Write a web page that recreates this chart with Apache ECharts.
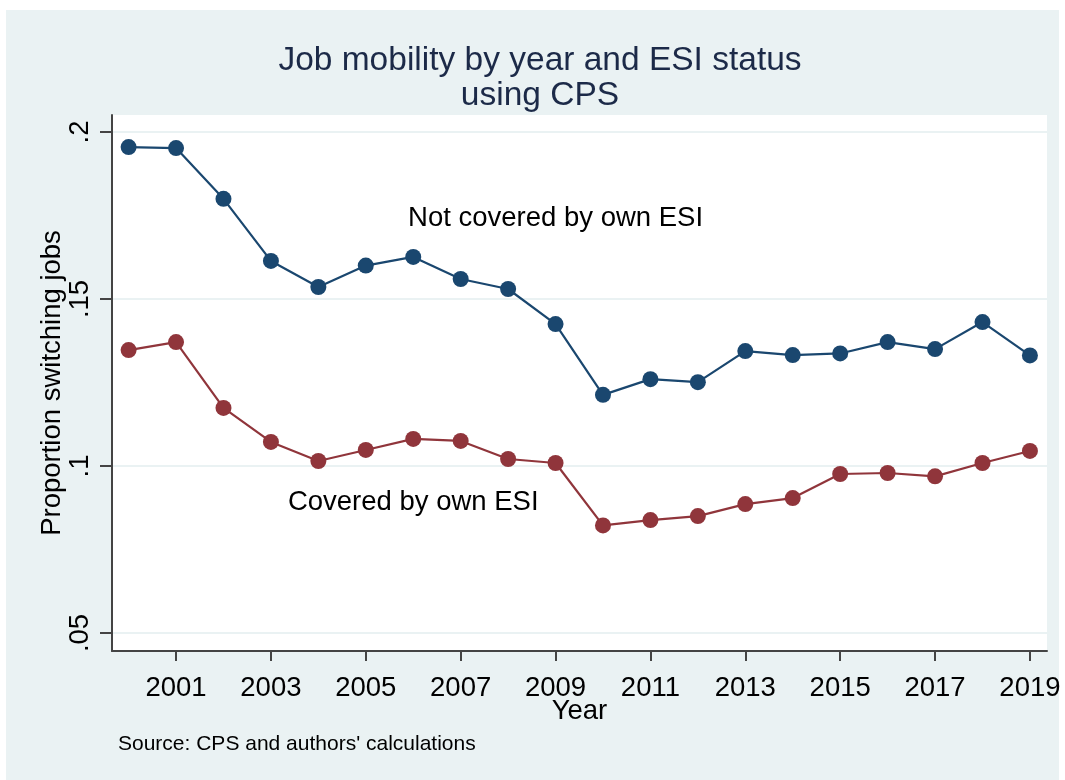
<!DOCTYPE html>
<html>
<head>
<meta charset="utf-8">
<script src="https://cdn.jsdelivr.net/npm/echarts@6/dist/echarts.min.js"></script>
<style>
  html, body { margin: 0; padding: 0; background: #fff; }
  #main { width: 1065px; height: 780px; }
</style>
</head>
<body>
<div id="main"></div>
<script>
// years and the two proportions
var years = [2000, 2001, 2002, 2003, 2004, 2005, 2006, 2007, 2008, 2009,
  2010, 2011, 2012, 2013, 2014, 2015, 2016, 2017, 2018, 2019]
var notCovered = [0.1955, 0.1952, 0.1800, 0.1614, 0.1536, 0.1600, 0.1626, 0.1560, 0.1530, 0.1425,
  0.1213, 0.1260, 0.1251, 0.1344, 0.1332, 0.1337, 0.1371, 0.1350, 0.1431, 0.1331]
var covered = [0.1347, 0.1371, 0.1174, 0.1072, 0.1015, 0.1048, 0.1081, 0.1075, 0.1021, 0.1009,
  0.0822, 0.0838, 0.0850, 0.0886, 0.0904, 0.0976, 0.0979, 0.0969, 0.1009, 0.1045]
var xTicks = [2001, 2003, 2005, 2007, 2009, 2011, 2013, 2015, 2017, 2019]
var yTicks = [0.05, 0.1, 0.15, 0.2]
var yTickLabels = ['.05', '.1', '.15', '.2']

var font = 'Liberation Sans, Arial, sans-serif'
var blue = '#1a476f'
var red = '#90353b'

function pairs (ys) {
  var out = []
  for (var i = 0; i < years.length; i++) {
    out.push([years[i], ys[i]])
  }
  return out
}

function textPoint (x, y, txt) {
  return {
    symbol: 'circle',
    symbolSize: 0,
    silent: true,
    data: [{
      coord: [x, y],
      label: {
        show: true,
        position: 'inside',
        formatter: txt,
        fontFamily: font,
        fontSize: 27.5,
        color: '#000'
      }
    }]
  }
}

var myChart = echarts.init(document.getElementById('main'))
var option = {
  backgroundColor: '#fff',
  animation: false,
  graphic: [
    {
      type: 'rect',
      z: -10,
      shape: { x: 6, y: 10, width: 1053, height: 770 },
      style: { fill: '#eaf2f3' }
    },
    {
      type: 'text',
      left: 118,
      top: 734,
      style: {
        text: "Source: CPS and authors' calculations",
        font: '21px ' + font,
        fill: '#000'
      }
    }
  ],
  title: {
    text: 'Job mobility by year and ESI status\nusing CPS',
    left: 535,
    top: 38,
    textAlign: 'center',
    textStyle: {
      fontFamily: font,
      fontSize: 33.5,
      fontWeight: 'normal',
      color: '#1c2a48',
      lineHeight: 35
    }
  },
  grid: {
    left: 112,
    top: 115,
    width: 935,
    height: 536,
    show: true,
    backgroundColor: '#fff',
    borderWidth: 0
  },
  xAxis: {
    type: 'value',
    min: 1999.65,
    max: 2019.36,
    name: 'Year',
    nameLocation: 'middle',
    nameGap: 46,
    nameMoveOverlap: false,
    nameTextStyle: { fontFamily: font, fontSize: 27.5, color: '#000' },
    axisLine: { lineStyle: { color: '#444', width: 2 } },
    axisTick: {
      customValues: xTicks,
      length: 10,
      lineStyle: { color: '#444', width: 2 }
    },
    axisLabel: {
      customValues: xTicks,
      margin: 23,
      fontFamily: font,
      fontSize: 27.5,
      color: '#000',
      formatter: function (v) { return String(v) }
    },
    splitLine: { show: false }
  },
  yAxis: {
    type: 'value',
    min: 0.0446,
    max: 0.2051,
    name: 'Proportion switching jobs',
    nameLocation: 'middle',
    nameGap: 46,
    nameMoveOverlap: false,
    nameTextStyle: { fontFamily: font, fontSize: 27.5, color: '#000' },
    axisLine: { show: true, lineStyle: { color: '#444', width: 2 } },
    axisTick: {
      show: true,
      customValues: yTicks,
      length: 12,
      lineStyle: { color: '#444', width: 2 }
    },
    axisLabel: {
      customValues: yTicks,
      rotate: 90,
      margin: 18,
      fontFamily: font,
      fontSize: 27.5,
      color: '#000',
      formatter: function (v) {
        for (var i = 0; i < yTicks.length; i++) {
          if (Math.abs(v - yTicks[i]) < 1e-6) return yTickLabels[i]
        }
        return ''
      }
    },
    splitLine: { show: true, lineStyle: { color: '#eaf2f3', width: 2 } }
  },
  series: [
    {
      name: 'Not covered by own ESI',
      type: 'line',
      data: pairs(notCovered),
      symbol: 'circle',
      symbolSize: 16,
      itemStyle: { color: blue },
      lineStyle: { color: blue, width: 2.2 },
      markPoint: textPoint(2009, 0.174, 'Not covered by own ESI')
    },
    {
      name: 'Covered by own ESI',
      type: 'line',
      data: pairs(covered),
      symbol: 'circle',
      symbolSize: 16,
      itemStyle: { color: red },
      lineStyle: { color: red, width: 2.2 },
      markPoint: textPoint(2006, 0.0892, 'Covered by own ESI')
    }
  ]
}
myChart.setOption(option)
</script>
</body>
</html>
